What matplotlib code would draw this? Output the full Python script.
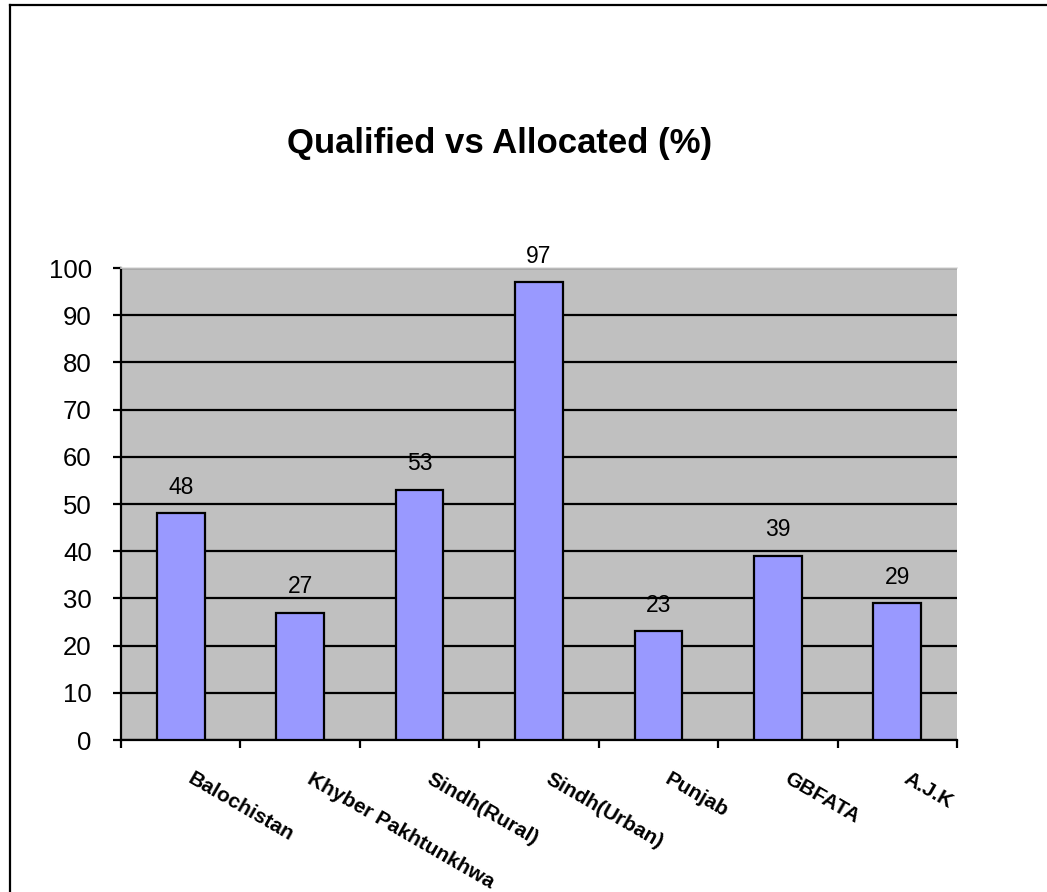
import numpy as np
import matplotlib
matplotlib.use("Agg")
import matplotlib.pyplot as plt
from matplotlib.lines import Line2D

plt.rcParams['font.family'] = ['Liberation Sans', 'DejaVu Sans']

# --- Data ---
regions = ["Balochistan", "Khyber Pakhtunkhwa", "Sindh(Rural)", "Sindh(Urban)",
           "Punjab", "GBFATA", "A.J.K"]
percent = [48, 27, 53, 97, 23, 39, 29]
y_ticks = list(range(0, 101, 10))
title = "Qualified vs Allocated (%)"

W, H = 1047, 892
fig = plt.figure(figsize=(W / 100, H / 100), dpi=100)

# outer chart frame (right and bottom edges are cut off in the original)
fig.add_artist(Line2D([10 / W, 10 / W], [1 - 5 / H, 0], color='black', lw=1.6,
                      transform=fig.transFigure))
fig.add_artist(Line2D([10 / W, 1], [1 - 5 / H, 1 - 5 / H], color='black', lw=1.6,
                      transform=fig.transFigure))

ax = fig.add_axes([121 / W, 1 - 740 / H, (957 - 121) / W, (740 - 268) / H])
ax.set_facecolor('#C0C0C0')

x = np.arange(len(regions)) + 0.5
ax.set_axisbelow(True)
ax.yaxis.grid(True, color='black', lw=1.6)
ax.bar(x, percent, width=0.4, color='#9999FF', edgecolor='black', lw=1.6, zorder=3)

for xi, v in zip(x, percent):
    ax.annotate(str(v), (xi, v), xytext=(0, 10.5), textcoords='offset points',
                ha='center', va='bottom', fontsize=16.5)

ax.set_xlim(0, len(regions))
ax.set_ylim(0, 100)
ax.set_yticks(y_ticks)
ax.tick_params(axis='y', direction='out', length=6, width=1.6, pad=15, labelsize=18.5)
ax.set_xticks(np.arange(len(regions) + 1))
ax.set_xticklabels([])
ax.tick_params(axis='x', direction='out', length=6, width=1.6)

for xi, name in zip(x, regions):
    ax.text(xi + 0.11, -0.062, name, transform=ax.get_xaxis_transform(),
            rotation=-30, rotation_mode='anchor', ha='left', va='top',
            fontsize=15, fontweight='bold')

ax.spines['right'].set_visible(False)
ax.spines['top'].set_color('#E0E0E0')
ax.spines['top'].set_linewidth(1.2)
ax.spines['left'].set_linewidth(1.6)
ax.spines['bottom'].set_linewidth(1.6)

fig.text(500 / W, 1 - 143 / H, title, ha='center', va='center',
         fontsize=25, fontweight='bold')

fig.savefig("out.png", dpi=100)
